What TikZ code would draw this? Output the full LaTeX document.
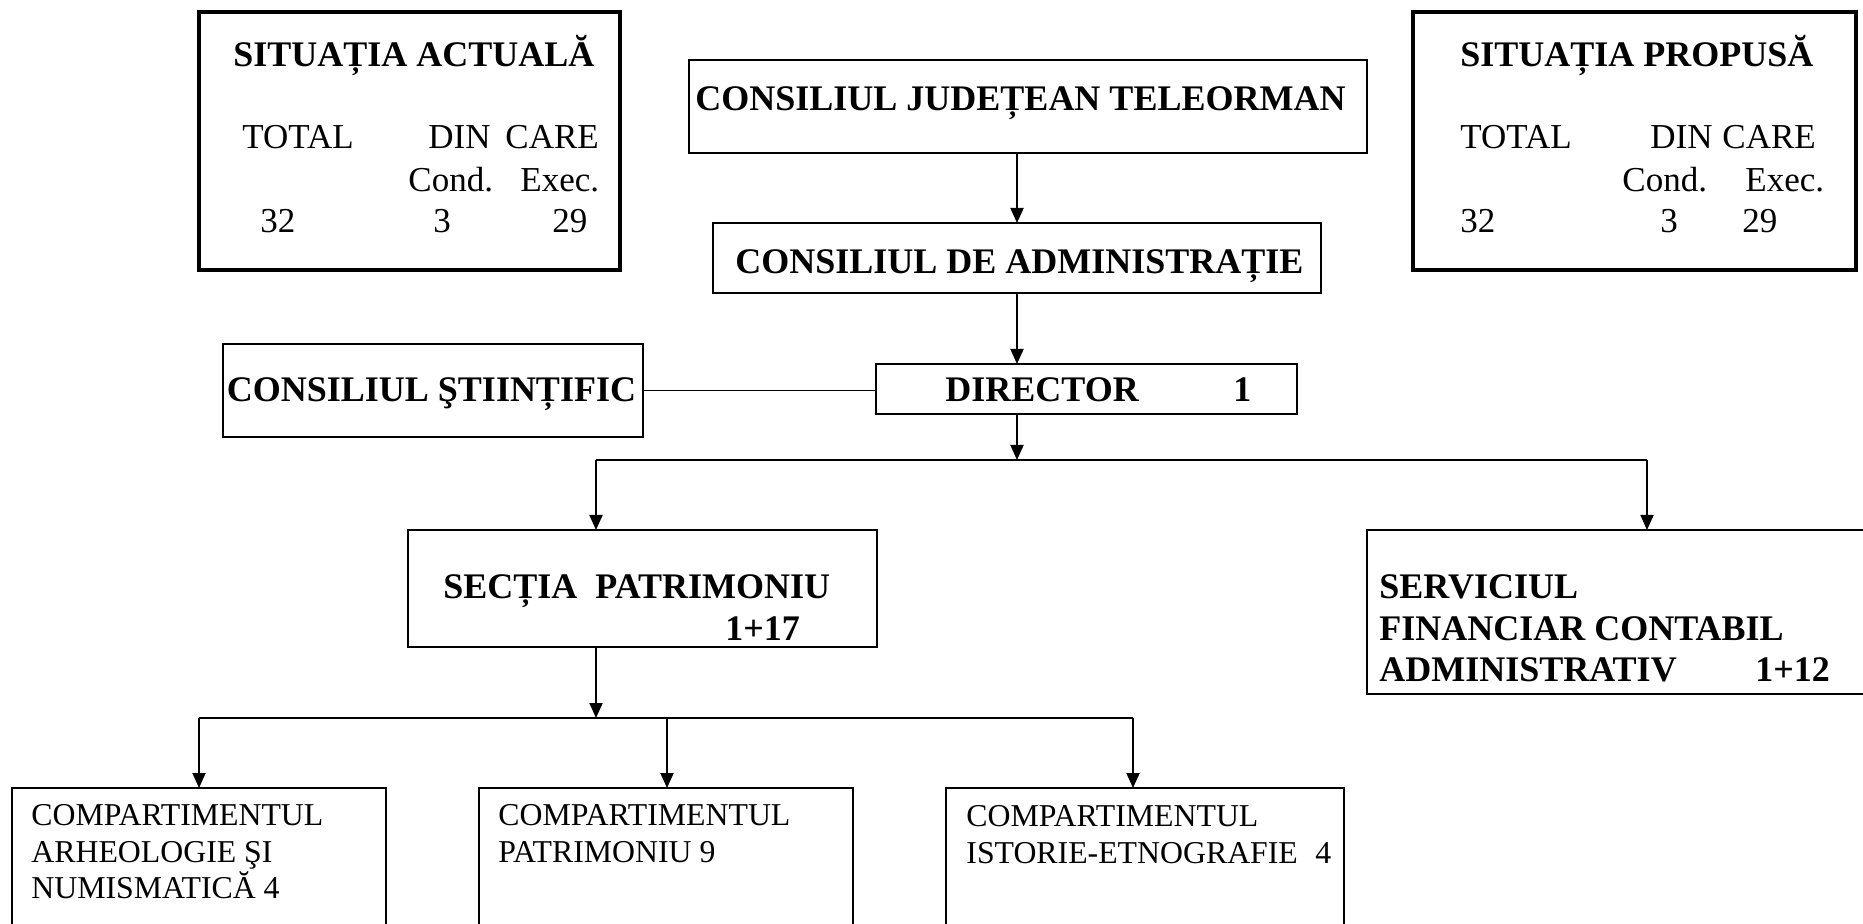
\documentclass[tikz,border=0pt]{standalone}
\usepackage{fontspec}
\setmainfont{Liberation Serif}
\usetikzlibrary{arrows.meta}
\begin{document}
\begin{tikzpicture}[x=0.5pt,y=-0.5pt,
  box/.style={draw, line width=0.9pt, inner sep=0pt, outer sep=0pt},
  thickbox/.style={box, line width=1.6pt},
  conn/.style={line width=0.95pt},
  arr/.style={conn, -{Triangle[length=7.5pt,width=6.5pt]}},
  hd/.style={inner sep=0pt, anchor=base west, font=\fontsize{18}{20}\selectfont\bfseries},
  hdc/.style={hd, anchor=base},
  rg/.style={inner sep=0pt, anchor=base west, font=\fontsize{17.5}{20}\selectfont},
  cp/.style={inner sep=0pt, anchor=base west, font=\fontsize{15.9}{18.5}\selectfont},
]
\useasboundingbox (0,0) rectangle (1863,924);
\clip (0,0) rectangle (1863,924);

% boxes
\node[thickbox, minimum width=210.5pt, minimum height=129pt] (sa) at (409.5,141) {};
\node[thickbox, minimum width=221.5pt, minimum height=129pt] (sp) at (1634.5,141) {};
\node[box, minimum width=339pt, minimum height=46.5pt] (cjt) at (1028,106.5) {};
\node[box, minimum width=304pt, minimum height=35pt] (cda) at (1017,258) {};
\node[box, minimum width=210pt, minimum height=46.5pt] (cs) at (433,390.5) {};
\node[box, minimum width=210.5pt, minimum height=25pt] (dir) at (1086.5,389) {};
\node[box, minimum width=234.5pt, minimum height=58.5pt] (sec) at (642.5,588.5) {};
\node[box, minimum width=254pt, minimum height=82pt] (serv) at (1621,612) {};
\node[box, minimum width=187pt, minimum height=81pt] (c1) at (199,869) {};
\node[box, minimum width=187pt, minimum height=81pt] (c2) at (666,869) {};
\node[box, minimum width=199pt, minimum height=81pt] (c3) at (1145,869) {};

% texts: situatia actuala
\node[hd] (saT) at (233,67) {SITUAȚIA ACTUALĂ};
\node[rg] (saA) at (242,149) {TOTAL};
\node[rg] (saB) at (428,149) {DIN};
\node[rg] (saC) at (505,149) {CARE};
\node[rg] (saD) at (408,192) {Cond.};
\node[rg] (saE) at (520,192) {Exec.};
\node[rg] (saF) at (260,233) {32};
\node[rg] (saG) at (433,233) {3};
\node[rg] (saH) at (552,233) {29};

% situatia propusa
\node[hd] (spT) at (1460,67) {SITUAȚIA PROPUSĂ};
\node[rg] (spA) at (1460,149) {TOTAL};
\node[rg] (spB) at (1650,149) {DIN};
\node[rg] (spC) at (1722,149) {CARE};
\node[rg] (spD) at (1622,192) {Cond.};
\node[rg] (spE) at (1745,192) {Exec.};
\node[rg] (spF) at (1460,233) {32};
\node[rg] (spG) at (1660,233) {3};
\node[rg] (spH) at (1742,233) {29};

% main chain
\node[hdc] (cjtT) at (1020.5,111) {CONSILIUL JUDEȚEAN TELEORMAN};
\node[hdc] (cdaT) at (1019.5,274) {CONSILIUL DE ADMINISTRAȚIE};
\node[hdc] (csT) at (431.5,402) {CONSILIUL ŞTIINȚIFIC};
\node[hd] (dirT) at (945,402) {DIRECTOR};
\node[hd] (dirN) at (1233,402) {1};
\node[hd] (secT) at (443,598) {SECȚIA\ \ PATRIMONIU};
\node[hd] (secN) at (725,640) {1+17};
\node[hd] (servA) at (1379,599) {SERVICIUL};
\node[hd] (servB) at (1379,640) {FINANCIAR CONTABIL};
\node[hd] (servC) at (1379,682) {ADMINISTRATIV};
\node[hd] (servN) at (1755,682) {1+12};

% compartments
\node[cp] (c1A) at (31,825) {COMPARTIMENTUL};
\node[cp] (c1B) at (31,862) {ARHEOLOGIE ŞI};
\node[cp] (c1C) at (31,898) {NUMISMATICĂ 4};
\node[cp] (c2A) at (498,825) {COMPARTIMENTUL};
\node[cp] (c2B) at (498,862) {PATRIMONIU 9};
\node[cp] (c3A) at (966,826) {COMPARTIMENTUL};
\node[cp] (c3B) at (966,863) {ISTORIE-ETNOGRAFIE};
\node[cp] (c3N) at (1315,863) {4};

% junction coordinates
\coordinate (j1) at (1017,460);
\coordinate (jl) at (596,460);
\coordinate (jr) at (1647,460);
\coordinate (k0) at (596,718);
\coordinate (k1) at (199,718);
\coordinate (k2) at (667,718);
\coordinate (k3) at (1133,718);

% connectors
\draw[arr] (cda.north |- cjt.south) -- (cda.north);
\draw[arr] (cda.south) -- (cda.south |- dir.north);
\draw[conn] (cs.east) -- (cs.east -| dir.west);
\draw[arr] (cda.south |- dir.south) -- (j1);
\draw[conn] (jl) -- (jr);
\draw[arr] (jl) -- (jl |- sec.north);
\draw[arr] (jr) -- (jr |- serv.north);
\draw[arr] (jl |- sec.south) -- (k0);
\draw[conn] (k1) -- (k3);
\draw[arr] (k1) -- (k1 |- c1.north);
\draw[arr] (k2) -- (k2 |- c2.north);
\draw[arr] (k3) -- (k3 |- c3.north);
\end{tikzpicture}
\end{document}
